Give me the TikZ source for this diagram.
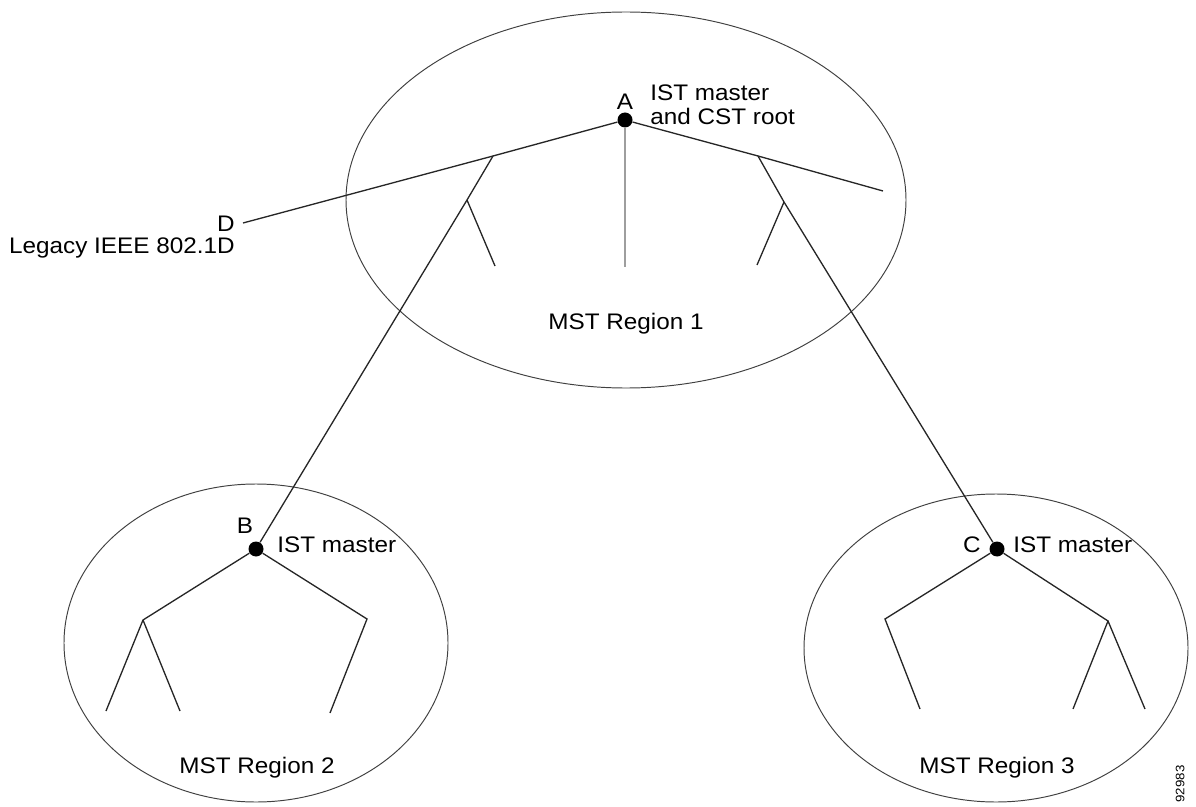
\documentclass[tikz,border=0pt]{standalone}
\usepackage{fontspec}
\setmainfont{Liberation Sans}[FakeStretch=1.08]
\usetikzlibrary{positioning}

\tikzset{
    region/.style={draw=black!75, line width=0.55pt},
    link/.style={draw=black!85, line width=0.75pt},
    stub/.style={draw=black!38, line width=1.6pt},
    dot/.style={circle, fill=black, inner sep=0pt, minimum size=0.3cm},
    lbl/.style={font=\fontsize{12.8}{14.2}\selectfont, inner sep=0pt},
    tag/.style={font=\fontsize{7}{8}\selectfont, inner sep=0pt, rotate=90}
}

\begin{document}
\begin{tikzpicture}[x=0.02cm, y=-0.02cm]
    \useasboundingbox (0,0) rectangle (1196,807);
    %regions
    \draw [region] (626,200) ellipse [x radius=280, y radius=188];
    \draw [region] (256,643) ellipse [x radius=192, y radius=159];
    \draw [region] (996,648) ellipse [x radius=192, y radius=154];
    %region 1
    \begin{scope}
    \node [dot] (A) at (625,120) {};
    \coordinate (l1) at (493,156);
    \coordinate (l2) at (467,200);
    \coordinate (l3) at (495,266);
    \coordinate (r1) at (758,156);
    \coordinate (r2) at (784,202);
    \coordinate (r3) at (757,265);
    \coordinate (rend) at (883,191);
    \coordinate (dend) at (243,223);
    \coordinate (mid) at (625,267);
    \draw [stub] (A) -- (mid);
    \draw [link] (A) -- (l1) -- (dend);
    \draw [link] (l2) -- (l3);
    \draw [link] (A) -- (r1) -- (rend);
    \draw [link] (r2) -- (r3);
    \node [lbl, above=1.5pt of A] (lA) {A};
    \node [lbl, anchor=north west, align=left] (tA) at (650,84) {IST master\\and CST root};
    \node [lbl, anchor=base] (reg1) at (626,330) {MST Region 1};
    \end{scope}
    %legacy
    \node [lbl, anchor=base east] (lD) at (235,232) {D};
    \node [lbl, anchor=base east] (tD) at (235,254) {Legacy IEEE 802.1D};
    %region 2
    \begin{scope}
    \node [dot] (B) at (256,549) {};
    \coordinate (bl) at (143,620);
    \coordinate (bl1) at (106,711);
    \coordinate (bl2) at (180,711);
    \coordinate (br) at (367,619);
    \coordinate (br1) at (330,713);
    \draw [link] (l1) -- (l2) -- (B);
    \draw [link] (B) -- (bl) -- (bl1);
    \draw [link] (bl) -- (bl2);
    \draw [link] (B) -- (br) -- (br1);
    \node [lbl, anchor=base] (lB) at (245,533) {B};
    \node [lbl, anchor=base west] (tB) at (277,552) {IST master};
    \node [lbl, anchor=base] (reg2) at (257,773) {MST Region 2};
    \end{scope}
    %region 3
    \begin{scope}
    \node [dot] (C) at (997,549) {};
    \coordinate (cl) at (885,619);
    \coordinate (cl1) at (920,709);
    \coordinate (cr) at (1108,621);
    \coordinate (cr1) at (1073,709);
    \coordinate (cr2) at (1145,709);
    \draw [link] (r1) -- (r2) -- (C);
    \draw [link] (C) -- (cl) -- (cl1);
    \draw [link] (C) -- (cr) -- (cr1);
    \draw [link] (cr) -- (cr2);
    \node [lbl, anchor=base east] (lC) at (981,552) {C};
    \node [lbl, anchor=base west] (tC) at (1013,552) {IST master};
    \node [lbl, anchor=base] (reg3) at (997,773) {MST Region 3};
    \end{scope}
    \node [tag] (fig) at (1180,784) {92983};
\end{tikzpicture}
\end{document}
